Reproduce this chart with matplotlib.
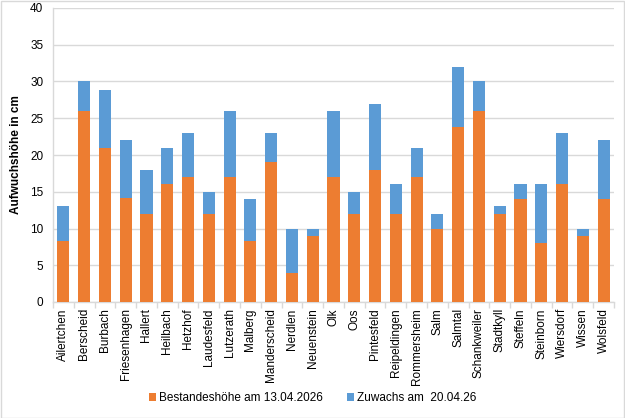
import matplotlib
matplotlib.use("Agg")
import matplotlib.pyplot as plt
from matplotlib.patches import Rectangle
import numpy as np

plt.rcParams['font.family'] = ['Liberation Sans', 'DejaVu Sans']

categories = ["Ailertchen", "Berscheid", "Burbach", "Friesenhagen", "Hallert", "Heilbach",
              "Hetzhof", "Laudesfeld", "Lutzerath", "Malberg", "Manderscheid", "Nerdlen",
              "Neuenstein", "Olk", "Oos", "Pintesfeld", "Reipeldingen", "Rommersheim",
              "Salm", "Salmtal", "Schankweiler", "Stadtkyll", "Steffeln", "Steinborn",
              "Wiersdorf", "Wissen", "Wolsfeld"]
bestand = [8.3, 26, 21, 14.2, 12, 16, 17, 12, 17, 8.3, 19, 4, 9, 17, 12, 18, 12, 17,
           10, 23.8, 26, 12, 14, 8, 16, 9, 14]
zuwachs = [4.7, 4, 7.9, 7.8, 6, 5, 6, 3, 9, 5.7, 4, 6, 1, 9, 3, 9, 4, 4,
           2, 8.2, 4, 1, 2, 8, 7, 1, 8]
series_names = ["Bestandeshöhe am 13.04.2026", "Zuwachs am  20.04.26"]
y_label = "Aufwuchshöhe in cm"
y_ticks = [0, 5, 10, 15, 20, 25, 30, 35, 40]

orange = "#ED7D31"
blue = "#5B9BD5"
grid = "#D9D9D9"
fs = 8.5

fig = plt.figure(figsize=(6.25, 4.18), dpi=100)
ax = fig.add_axes([53/625, 1-302/418, (614-53)/625, (302-8)/418])

x = np.arange(len(categories))
w = 0.58
ax.bar(x, bestand, width=w, color=orange, label=series_names[0], zorder=3)
ax.bar(x, zuwachs, width=w, bottom=bestand, color=blue, label=series_names[1], zorder=3)

ax.set_xlim(-0.5, len(categories) - 0.5)
ax.set_ylim(0, 40)
ax.set_yticks(y_ticks)
ax.yaxis.grid(True, color=grid, linewidth=1.0, zorder=0)
ax.set_axisbelow(True)

ax.set_xticks(x)
ax.set_xticklabels(categories, rotation=90, fontsize=fs, color="#000000")
ax.set_xticks(np.arange(-0.5, len(categories), 0.5), minor=True)
ax.tick_params(axis='x', which='major', length=0, pad=4.5)
ax.tick_params(axis='x', which='minor', length=4, color=grid, width=1)
ax.tick_params(axis='y', length=0, labelsize=fs, pad=7)

for s in ['top', 'right']:
    ax.spines[s].set_visible(False)
ax.spines['left'].set_color(grid)
ax.spines['bottom'].set_color(grid)
ax.spines['left'].set_linewidth(1.0)
ax.spines['bottom'].set_linewidth(1.0)

ax.set_ylabel(y_label, fontsize=fs, fontweight='bold', labelpad=6)

leg = fig.legend(loc='center', bbox_to_anchor=(0.5, 1-398/418), ncol=2, frameon=False,
                 fontsize=fs, handlelength=0.6, handleheight=0.6, handletextpad=0.25,
                 columnspacing=2.0)

fig.patches.append(Rectangle((0.001, 0.001), 0.997, 0.997, transform=fig.transFigure,
                             fill=False, edgecolor=grid, linewidth=1.0))

fig.savefig("out.png", dpi=100)
